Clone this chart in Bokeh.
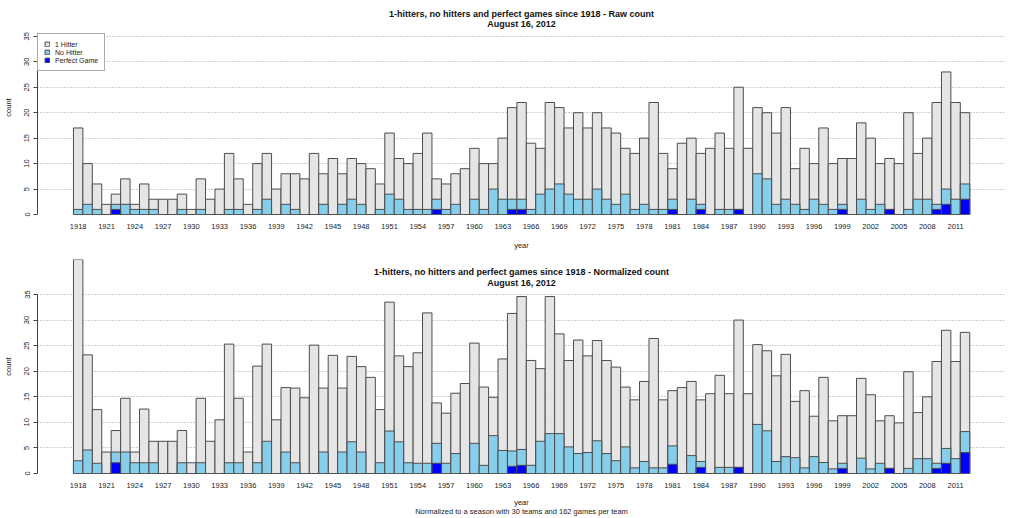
from bokeh.plotting import figure
from bokeh.models import FixedTicker, Range1d, Legend, LegendItem, Label, ColumnDataSource
from bokeh.layouts import column
from bokeh.embed import file_html
from bokeh.resources import INLINE

# ---------------- data ----------------
years = list(range(1918, 2013))

raw_total = [17, 10, 6, 2, 4, 7, 2, 6, 3, 3,
             3, 4, 1, 7, 3, 5, 12, 7, 2, 10,
             12, 5, 8, 8, 7, 12, 8, 11, 8, 11,
             10, 9, 6, 16, 11, 10, 12, 16, 7, 6,
             8, 9, 13, 10, 10, 15, 21, 22, 14, 13,
             22, 21, 17, 20, 17, 20, 17, 16, 13, 12,
             15, 22, 12, 9, 14, 15, 12, 13, 16, 13,
             25, 13, 21, 20, 16, 21, 9, 13, 10, 17,
             10, 11, 11, 18, 15, 10, 11, 10, 20, 12,
             15, 22, 28, 22, 20]

raw_no_hitter = [1, 2, 1, 0, 2, 2, 1, 1, 1, 0,
                 0, 1, 0, 1, 0, 0, 1, 1, 0, 1,
                 3, 0, 2, 1, 0, 0, 2, 0, 2, 3,
                 2, 0, 1, 4, 3, 1, 1, 1, 3, 1,
                 2, 0, 3, 1, 5, 3, 3, 3, 1, 4,
                 5, 6, 4, 3, 3, 5, 3, 2, 4, 1,
                 2, 1, 1, 3, 0, 3, 2, 0, 1, 1,
                 1, 0, 8, 7, 2, 3, 2, 1, 3, 2,
                 1, 2, 0, 3, 1, 2, 1, 0, 1, 3,
                 3, 2, 5, 3, 6]

raw_perfect = [0, 0, 0, 0, 1, 0, 0, 0, 0, 0,
               0, 0, 0, 0, 0, 0, 0, 0, 0, 0,
               0, 0, 0, 0, 0, 0, 0, 0, 0, 0,
               0, 0, 0, 0, 0, 0, 0, 0, 1, 0,
               0, 0, 0, 0, 0, 0, 1, 1, 0, 0,
               0, 0, 0, 0, 0, 0, 0, 0, 0, 0,
               0, 0, 0, 1, 0, 0, 1, 0, 0, 0,
               1, 0, 0, 0, 0, 0, 0, 0, 0, 0,
               0, 1, 0, 0, 0, 0, 1, 0, 0, 0,
               0, 1, 2, 0, 3]

norm_total = [42.2, 23.2, 12.5, 4.2, 8.4, 14.7, 4.2, 12.6, 6.3, 6.3,
              6.3, 8.4, 2.1, 14.7, 6.3, 10.5, 25.3, 14.7, 4.2, 21.0,
              25.3, 10.5, 16.8, 16.7, 14.8, 25.1, 16.7, 23.1, 16.7, 22.9,
              20.9, 18.8, 12.5, 33.5, 23.0, 20.9, 23.6, 31.4, 13.8, 11.8,
              15.7, 17.6, 25.5, 16.9, 14.9, 22.4, 31.3, 34.6, 22.1, 20.5,
              34.6, 27.3, 22.1, 26.1, 23.0, 26.0, 22.1, 20.8, 16.9, 14.4,
              18.0, 26.4, 14.4, 16.2, 16.8, 18.0, 14.4, 15.6, 19.2, 15.6,
              30.0, 15.6, 25.2, 24.0, 19.1, 23.3, 14.1, 16.2, 11.2, 18.8,
              10.3, 11.3, 11.3, 18.6, 15.4, 10.3, 11.3, 9.9, 19.9, 11.9,
              15.0, 21.9, 28.0, 21.9, 27.6]

norm_no_hitter = [2.5, 4.6, 2.0, 0, 4.2, 4.2, 2.1, 2.1, 2.1, 0,
                  0, 2.1, 0, 2.1, 0, 0, 2.1, 2.1, 0, 2.1,
                  6.3, 0, 4.2, 2.1, 0, 0, 4.2, 0, 4.2, 6.2,
                  4.2, 0, 2.1, 8.3, 6.2, 2.1, 2.0, 2.0, 5.9, 2.0,
                  3.9, 0, 5.9, 1.6, 7.4, 4.5, 4.4, 4.7, 1.6, 6.3,
                  7.8, 7.8, 5.2, 3.9, 4.1, 6.4, 3.9, 2.5, 5.2, 1.1,
                  2.35, 1.1, 1.1, 5.4, 0, 3.5, 2.35, 0, 1.2, 1.2,
                  1.2, 0, 9.6, 8.35, 2.35, 3.3, 3.1, 1.1, 3.3, 2.15,
                  0.9, 2.0, 0, 3.0, 0.9, 2.0, 1.0, 0, 1.0, 2.9,
                  2.9, 2.0, 4.9, 2.9, 8.2]

norm_perfect = [0, 0, 0, 0, 2.1, 0, 0, 0, 0, 0,
                0, 0, 0, 0, 0, 0, 0, 0, 0, 0,
                0, 0, 0, 0, 0, 0, 0, 0, 0, 0,
                0, 0, 0, 0, 0, 0, 0, 0, 2.0, 0,
                0, 0, 0, 0, 0, 0, 1.4, 1.6, 0, 0,
                0, 0, 0, 0, 0, 0, 0, 0, 0, 0,
                0, 0, 0, 1.8, 0, 0, 1.2, 0, 0, 0,
                1.2, 0, 0, 0, 0, 0, 0, 0, 0, 0,
                0, 1.0, 0, 0, 0, 0, 1.0, 0, 0, 0,
                0, 1.0, 2.0, 0, 4.1]

tick_years = [1918, 1921, 1924, 1927, 1930, 1933, 1936, 1939, 1942, 1945,
              1948, 1951, 1954, 1957, 1960, 1963, 1966, 1969, 1972, 1975,
              1978, 1981, 1984, 1987, 1990, 1993, 1996, 1999, 2002, 2005,
              2008, 2011]
y_ticks = [0, 5, 10, 15, 20, 25, 30, 35]
grid_ticks = [5, 10, 15, 20, 25, 30, 35]

series_labels = ["1 Hitter", "No Hitter", "Perfect Game"]
title_raw = ["1-hitters, no hitters and perfect games since 1918 - Raw count", "August 16, 2012"]
title_norm = ["1-hitters, no hitters and perfect games since 1918 - Normalized count", "August 16, 2012"]
subtitle_norm = "Normalized to a season with 30 teams and 162 games per team"

# ---------------- style ----------------
FONT = "Liberation Sans"
GREY = "#e5e5e5"
SKY = "#87ceeb"
BLUE = "#0000ff"
EDGE = "#4d4d4d"
TXT = "#222222"
X_START, X_END = 1913.69, 2016.29
PX = 179 / 35.0          # pixels per count unit


def make_panel(total, nohit, perfect, height, b_top, b_bottom, frame_h,
               title_lines, title_px, x_label, year_standoff):
    y_end = frame_h / PX
    src = ColumnDataSource(dict(year=years, total=total, nohit=nohit, perfect=perfect))
    p = figure(width=1024, height=height, output_backend="svg", toolbar_location=None,
               x_range=Range1d(X_START, X_END), y_range=Range1d(0, y_end),
               min_border_left=36, min_border_right=19,
               min_border_top=b_top, min_border_bottom=b_bottom)
    p.outline_line_color = None
    p.background_fill_color = "white"
    p.border_fill_color = "white"

    r1 = p.vbar(x="year", top="total", bottom=0, width=1.0, source=src,
                fill_color=GREY, line_color=EDGE, line_width=1)
    r2 = p.vbar(x="year", top="nohit", bottom=0, width=1.0, source=src,
                fill_color=SKY, line_color=EDGE, line_width=1)
    r3 = p.vbar(x="year", top="perfect", bottom=0, width=1.0, source=src,
                fill_color=BLUE, line_color=EDGE, line_width=1)

    p.xgrid.visible = False
    p.ygrid.ticker = FixedTicker(ticks=grid_ticks)
    p.ygrid.grid_line_color = "#a0a0a0"
    p.ygrid.grid_line_dash = "1 2"
    p.ygrid.grid_line_width = 1

    xa = p.xaxis[0]
    xa.ticker = FixedTicker(ticks=tick_years)
    xa.axis_line_color = None
    xa.major_tick_line_color = None
    xa.minor_tick_line_color = None
    xa.major_tick_out = 0
    xa.major_label_standoff = 9
    xa.major_label_text_font = FONT
    xa.major_label_text_font_size = "7.5px"
    xa.major_label_text_color = TXT
    xa.axis_label = x_label
    xa.axis_label_text_font = FONT
    xa.axis_label_text_font_size = "7.5px"
    xa.axis_label_text_font_style = "normal"
    xa.axis_label_text_color = TXT
    xa.axis_label_text_line_height = 1.0
    xa.axis_label_standoff = year_standoff

    ya = p.yaxis[0]
    ya.ticker = FixedTicker(ticks=y_ticks)
    ya.bounds = (0, 35)
    ya.axis_line_color = "#444444"
    ya.major_tick_line_color = "#444444"
    ya.major_tick_out = 4
    ya.major_tick_in = 0
    ya.minor_tick_line_color = None
    ya.major_label_orientation = "vertical"
    ya.major_label_standoff = 4
    ya.major_label_text_font = FONT
    ya.major_label_text_font_size = "7.5px"
    ya.major_label_text_color = TXT
    ya.axis_label = "count"
    ya.axis_label_text_font = FONT
    ya.axis_label_text_font_size = "7.5px"
    ya.axis_label_text_font_style = "normal"
    ya.axis_label_text_color = TXT
    ya.axis_label_standoff = 9

    xc = (X_START + X_END) / 2.0
    for line, px_from_top in zip(title_lines, title_px):
        p.add_layout(Label(x=xc, y=y_end - px_from_top / PX, text=line, text_align="center",
                           text_baseline="middle", text_font=FONT,
                           text_font_size="9px", text_font_style="bold",
                           text_color="#111111"))
    return p, (r1, r2, r3)


# top panel: frame reaches the canvas top so the title sits inside it
p1, rs = make_panel(raw_total, raw_no_hitter, raw_perfect, 252, 0, 37, 215,
                    title_raw, [13.3, 23.3], "year", 9)
LEG_H = 36
legend = Legend(items=[LegendItem(label=series_labels[i], renderers=[rs[i]]) for i in range(3)],
                location=(0, 179 - LEG_H), margin=0, padding=6, spacing=0,
                glyph_width=6, glyph_height=6, label_height=8, label_standoff=5,
                label_text_font=FONT, label_text_font_size="7px",
                label_text_color=TXT,
                border_line_color="#555555", border_line_width=1,
                background_fill_color="white", background_fill_alpha=1.0)
p1.add_layout(legend, "center")

# bottom panel: "year" plus the normalisation note as a two-line axis label
p2, _ = make_panel(norm_total, norm_no_hitter, norm_perfect, 266, 7, 45, 214,
                   title_norm, [12.7, 23.3], "year\n" + subtitle_norm, 7)

layout = column(p1, p2, spacing=0)
open("out.html", "w").write(file_html(layout, INLINE))
